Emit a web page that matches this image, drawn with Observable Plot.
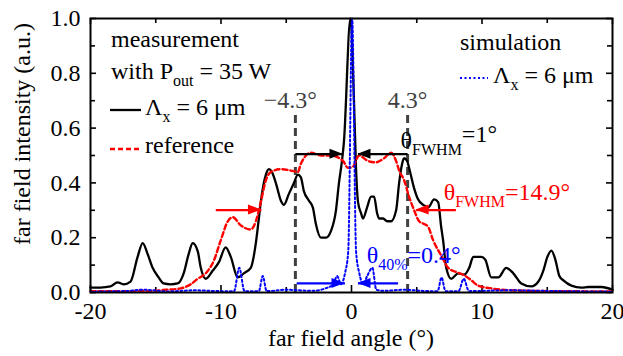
<!DOCTYPE html>
<html><head><meta charset="utf-8">
<script src="https://cdn.jsdelivr.net/npm/d3@7"></script>
<script src="https://cdn.jsdelivr.net/npm/@observablehq/plot@0.6"></script>
<style>body{margin:0;background:#fff;} svg{display:block} svg text{font-family:"Liberation Serif","DejaVu Serif",serif;}</style>
</head><body><div id="chart"></div>
<script>
// measurement (black solid)
const measX = [-20,-19.24,-18.47,-17.93,-17.47,-16.93,-16.39,-16.0,-15.62,-15.24,-14.78,-14.4,-13.86,-13.32,-12.86,-12.48,-12.17,-11.78,-11.55,-11.17,-10.63,-10.17,-9.64,-9.25,-8.72,-8.25,-7.72,-7.33,-7.1,-6.95,-6.56,-6.33,-6.1,-5.8,-5.41,-5.18,-4.8,-4.41,-4.11,-3.88,-3.65,-3.26,-2.96,-2.73,-2.34,-1.96,-1.57,-1.19,-0.96,-0.73,-0.58,-0.08,0.19,0.35,0.5,0.73,0.88,1.19,1.5,1.73,1.96,2.11,2.42,2.73,3.03,3.42,3.65,3.88,4.03,4.26,4.49,4.8,5.1,5.49,5.87,6.33,6.64,6.87,7.02,7.26,7.64,8.18,8.64,9.02,9.33,9.94,10.25,10.71,11.25,11.86,12.4,13.01,13.78,14.32,14.7,15.01,15.32,15.62,15.93,16.24,16.85,17.62,18.16,19.16,20];
const measY = [0.018,0.018,0.022,0.037,0.03,0.04,0.13,0.18,0.14,0.09,0.055,0.033,0.03,0.033,0.07,0.14,0.18,0.15,0.09,0.05,0.08,0.11,0.165,0.13,0.055,0.07,0.09,0.18,0.27,0.33,0.43,0.45,0.44,0.40,0.335,0.32,0.36,0.40,0.43,0.42,0.37,0.335,0.31,0.25,0.2,0.2,0.225,0.3,0.40,0.48,0.55,1.0,0.7,0.45,0.33,0.29,0.27,0.31,0.35,0.35,0.29,0.27,0.27,0.26,0.26,0.3,0.40,0.47,0.49,0.48,0.44,0.38,0.34,0.32,0.31,0.34,0.33,0.24,0.19,0.09,0.05,0.07,0.065,0.09,0.13,0.13,0.12,0.055,0.055,0.09,0.07,0.033,0.022,0.04,0.08,0.13,0.153,0.12,0.06,0.044,0.025,0.018,0.02,0.02,0.01];
// reference (red dashed)
const refX = [-20,-17.7,-15.4,-14.2,-13.09,-12.32,-11.79,-11.17,-10.56,-10.02,-9.48,-9.1,-8.48,-7.72,-7.33,-6.95,-6.56,-6.18,-5.41,-4.64,-4.11,-3.88,-3.65,-3.11,-2.34,-1.57,-0.65,-0.27,0.12,0.58,1.27,1.88,2.5,3.03,3.42,3.65,4.03,4.41,4.8,5.18,5.57,5.87,6.26,6.87,7.41,8.02,8.56,9.17,9.71,10.71,12.25,15.3,20];
const refY = [0.005,0.005,0.006,0.01,0.015,0.03,0.05,0.07,0.115,0.19,0.26,0.275,0.245,0.23,0.26,0.33,0.41,0.44,0.45,0.445,0.44,0.47,0.49,0.51,0.5,0.5,0.48,0.455,0.46,0.5,0.48,0.475,0.49,0.51,0.48,0.445,0.41,0.35,0.30,0.26,0.25,0.24,0.19,0.135,0.09,0.075,0.065,0.045,0.025,0.015,0.008,0.005,0.004];
// simulation (blue dotted)
const simX = [-20,-17,-16,-14,-12,-10,-9.0,-8.6,-8.2,-7.1,-6.8,-6.5,-5,-3,-2,-1.4,-1.1,-0.8,-0.5,-0.25,0.05,0.35,0.6,0.9,1.2,1.6,1.9,2.5,4,6,6.6,6.9,7.2,8.2,8.6,9.0,12,16,20];
const simY = [0.003,0.006,0.01,0.004,0.008,0.005,0.005,0.09,0.005,0.005,0.06,0.005,0.01,0.006,0.015,0.03,0.06,0.03,0.07,0.15,1.0,0.15,0.07,0.03,0.06,0.09,0.01,0.006,0.01,0.005,0.005,0.055,0.005,0.005,0.05,0.005,0.008,0.005,0.003];

const xTicks = [-20,-10,0,10,20];
const xMinor = [-15,-5,5,15];
const yTicks = [0,0.2,0.4,0.6,0.8,1.0];
const yMinor = [0.1,0.3,0.5,0.7,0.9];

// annotations: vertical markers and width arrows (from, to, level)
const markAngles = [-4.3, 4.3];
const markLabels = ["\u22124.3\u00b0", "4.3\u00b0"];
const arrowFrom = [-4.3, 4.3, -10.4, 8.0, -4.2, 3.57];
const arrowTo   = [-0.65, 0.5, -6.9, 4.95, -0.5, 0.5];
const arrowLevel = [0.505, 0.505, 0.301, 0.301, 0.033, 0.033];
const arrowGroup = ["meas","meas","ref","ref","sim","sim"];

const meas = measX.map((x, i) => ({x, y: measY[i]}));
const ref = refX.map((x, i) => ({x, y: refY[i]}));
const sim = simX.map((x, i) => ({x, y: simY[i]}));
const arrows = arrowFrom.map((x1, i) => ({x1, x2: arrowTo[i], y: arrowLevel[i], g: arrowGroup[i]}));
const marks = markAngles.map((x, i) => ({x, label: markLabels[i]}));
const colors = {meas: "#000000", ref: "#ff0000", sim: "#0000ff"};

const W = 623, H = 356, mL = 90, mR = 11, mT = 18, mB = 64;
const pw = W - mL - mR, ph = H - mT - mB;
const FONT = "'Liberation Serif', 'DejaVu Serif', serif";

const plot = Plot.plot({
  width: W, height: H,
  marginLeft: mL, marginRight: mR, marginTop: mT, marginBottom: mB,
  style: {fontFamily: FONT, fontSize: "24px", color: "#000", background: "#fff"},
  x: {domain: [-20, 20], ticks: xTicks, tickFormat: d => String(d), tickSize: 0, tickPadding: 9, label: null},
  y: {domain: [0, 1], ticks: yTicks, tickFormat: d3.format(".1f"), tickSize: 0, tickPadding: 10, label: null},
  marks: [
    // inward ticks
    Plot.ruleX(xTicks, {stroke: "#000", strokeWidth: 1.6, insetTop: ph - 7}),
    Plot.ruleX(xMinor, {stroke: "#000", strokeWidth: 1.6, insetTop: ph - 5}),
    Plot.ruleX(xTicks, {stroke: "#000", strokeWidth: 1.6, insetBottom: ph - 6}),
    Plot.ruleX(xMinor, {stroke: "#000", strokeWidth: 1.6, insetBottom: ph - 5}),
    Plot.ruleY(yTicks, {stroke: "#000", strokeWidth: 1.6, insetRight: pw - 6}),
    Plot.ruleY(yMinor, {stroke: "#000", strokeWidth: 1.6, insetRight: pw - 5}),
    Plot.ruleY(yTicks, {stroke: "#000", strokeWidth: 1.6, insetLeft: pw - 6}),
    Plot.ruleY(yMinor, {stroke: "#000", strokeWidth: 1.6, insetLeft: pw - 5}),
    // grey dashed markers
    Plot.ruleX(markAngles, {y1: 0, y2: 0.65, stroke: "#404040", strokeWidth: 3, strokeDasharray: "8,5"}),
    Plot.text(marks.filter(d => d.x < 0), {x: "x", y: 0.675, text: "label", fill: "#404040", textAnchor: "middle", lineAnchor: "bottom", dx: -5}),
    Plot.text(marks.filter(d => d.x > 0), {x: "x", y: 0.675, text: "label", fill: "#404040", textAnchor: "middle", lineAnchor: "bottom"}),
    // curves
    Plot.line(meas, {x: "x", y: "y", stroke: colors.meas, strokeWidth: 2.3, curve: "monotone-x"}),
    Plot.line(ref, {x: "x", y: "y", stroke: colors.ref, strokeWidth: 2.4, strokeDasharray: "5,3", curve: "monotone-x"}),
    Plot.line(sim, {x: "x", y: "y", stroke: colors.sim, strokeWidth: 2, strokeDasharray: "2,2.5", curve: "monotone-x"}),
    // arrow shafts
    Plot.link(arrows, {x1: "x1", x2: "x2", y1: "y", y2: "y", stroke: d => colors[d.g], strokeWidth: 2.2}),
    Plot.frame({stroke: "#000", strokeWidth: 2})
  ]
});
document.getElementById("chart").appendChild(plot);

const xs = plot.scale("x"), ys = plot.scale("y");
const svg = d3.select(plot);
const g = svg.append("g");

// arrowheads
for (const a of arrows) {
  const tx = xs.apply(a.x2), ty = ys.apply(a.y);
  const dir = Math.sign(a.x2 - a.x1);
  const bx = tx - dir * 13;
  g.append("path").attr("d", `M${tx},${ty}L${bx},${ty - 5}L${bx},${ty + 5}Z`).attr("fill", colors[a.g]);
}

function rich(px, py, parts, fill = "#000", anchor = "start") {
  const t = g.append("text").attr("x", px).attr("y", py).attr("fill", fill)
    .attr("text-anchor", anchor).style("font-family", FONT).style("font-size", "24px");
  let shift = 0;
  for (const p of parts) {
    const want = p.s || 0;
    const s = t.append("tspan").text(p.t);
    if (want !== shift) { s.attr("dy", want - shift); shift = want; }
    s.style("font-size", p.small ? "16px" : "24px");
  }
  return t;
}

// rich annotations positioned through the scales
rich(xs.apply(3.8), ys.apply(0.525), [{t: "\u03b8"}, {t: "FWHM", s: 7, small: true}, {t: "=1\u00b0", s: -6}], "#000");
rich(xs.apply(7.1), ys.apply(0.336), [{t: "\u03b8"}, {t: "FWHM", s: 7, small: true}, {t: "=14.9\u00b0", s: 0}], "#ff0000");
rich(xs.apply(1.2), ys.apply(0.107), [{t: "\u03b8"}, {t: "40%", s: 7, small: true}, {t: "=0.4\u00b0", s: 0}], "#0000ff");

// legends
rich(111, 47, [{t: "measurement"}]);
rich(111, 79, [{t: "with P"}, {t: "out", s: 7, small: true}, {t: " = 35 W", s: 0}]);
g.append("line").attr("x1", 110).attr("x2", 141).attr("y1", 110).attr("y2", 110).attr("stroke", "#000").attr("stroke-width", 2.3);
rich(145, 115, [{t: "\u039b"}, {t: "x", s: 7, small: true}, {t: " = 6 \u03bcm", s: 0}]);
g.append("line").attr("x1", 110).attr("x2", 141).attr("y1", 149).attr("y2", 149).attr("stroke", "#ff0000").attr("stroke-width", 2.4).attr("stroke-dasharray", "5,3");
rich(145, 153, [{t: "reference"}]);
rich(460, 50, [{t: "simulation"}]);
g.append("line").attr("x1", 460).attr("x2", 488).attr("y1", 78).attr("y2", 78).attr("stroke", "#0000ff").attr("stroke-width", 2).attr("stroke-dasharray", "2,2.5");
rich(493, 83, [{t: "\u039b"}, {t: "x", s: 7, small: true}, {t: " = 6 \u03bcm", s: 0}]);

// axis titles
rich(mL + pw / 2, 346, [{t: "far field angle (\u00b0)"}], "#000", "middle");
g.append("text").attr("transform", "translate(30,134) rotate(-90)").attr("text-anchor", "middle")
  .style("font-family", FONT).style("font-size", "24px").attr("fill", "#000").text("far field intensity (a.u.)");
</script>
</body></html>
